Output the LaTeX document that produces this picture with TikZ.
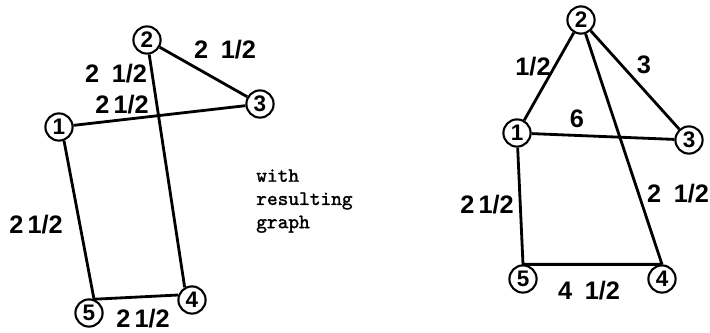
\documentclass[tikz,border=0pt]{standalone}
\usepackage{fontspec}
\setmainfont{Liberation Sans}
\newfontfamily\capfont[FakeBold=1.5]{lmmono10-regular.otf}
\usetikzlibrary{positioning}

\tikzset{
  vertex/.style={circle,draw,line width=1.5pt,minimum size=0.68cm,inner sep=0pt,font=\bfseries\fontsize{16}{16}\selectfont},
  edge/.style={line width=2pt},
  weight/.style={font=\bfseries\fontsize{18}{18}\selectfont}
}

\begin{document}
\begin{tikzpicture}[x=0.025cm,y=-0.025cm]
\useasboundingbox (0,0) rectangle (710,332);

% First graph
\node[vertex] (a1) at (59,127) {1};
\node[vertex] (a2) at (147,40) {2};
\node[vertex] (a3) at (260,104) {3};
\node[vertex] (a4) at (192,300) {4};
\node[vertex] (a5) at (89,313) {5};

\draw[edge] (a1) -- (a3);
\draw[edge] (a2) -- (a3);
\draw[edge] (a2) -- (a4.120);
\draw[edge] (a1.-70) -- (a5.70) -- (a4.160);

\node[weight] (wa23) at (225,50) {2\enspace1/2};
\node[weight] (wa24) at (116,74) {2\enspace1/2};
\node[weight] (wa13) at (122,105) {2\,1/2};
\node[weight] (wa15) at (36,225) {2\,1/2};
\node[weight] (wa54) at (143,319) {2\,1/2};

% Caption between the graphs
\node[anchor=north west,align=left,font=\capfont\fontsize{14.5}{16.5}\selectfont,inner sep=0pt] (cap) at (256,169) {with\\resulting\\graph};

% Resulting graph
\node[vertex] (b1) at (517,133) {1};
\node[vertex] (b2) at (581,20) {2};
\node[vertex] (b3) at (689,140) {3};
\node[vertex] (b4) at (662,279) {4};
\node[vertex] (b5) at (523,279) {5};

\draw[edge] (b2) -- (b1);
\draw[edge] (b2) -- (b3);
\draw[edge] (b2) -- (b4.north);
\draw[edge] (b1) -- (b3);
\draw[edge] (b1) -- (b5.north) -- (b4.north);

\node[weight] (wb21) at (533,67) {1/2};
\node[weight] (wb23) at (644,65) {3};
\node[weight] (wb13) at (577,119) {6};
\node[weight] (wb15) at (487,205) {2\,1/2};
\node[weight] (wb24) at (678,194) {2\enspace1/2};
\node[weight] (wb54) at (589,291) {4\enspace1/2};

\end{tikzpicture}
\end{document}
